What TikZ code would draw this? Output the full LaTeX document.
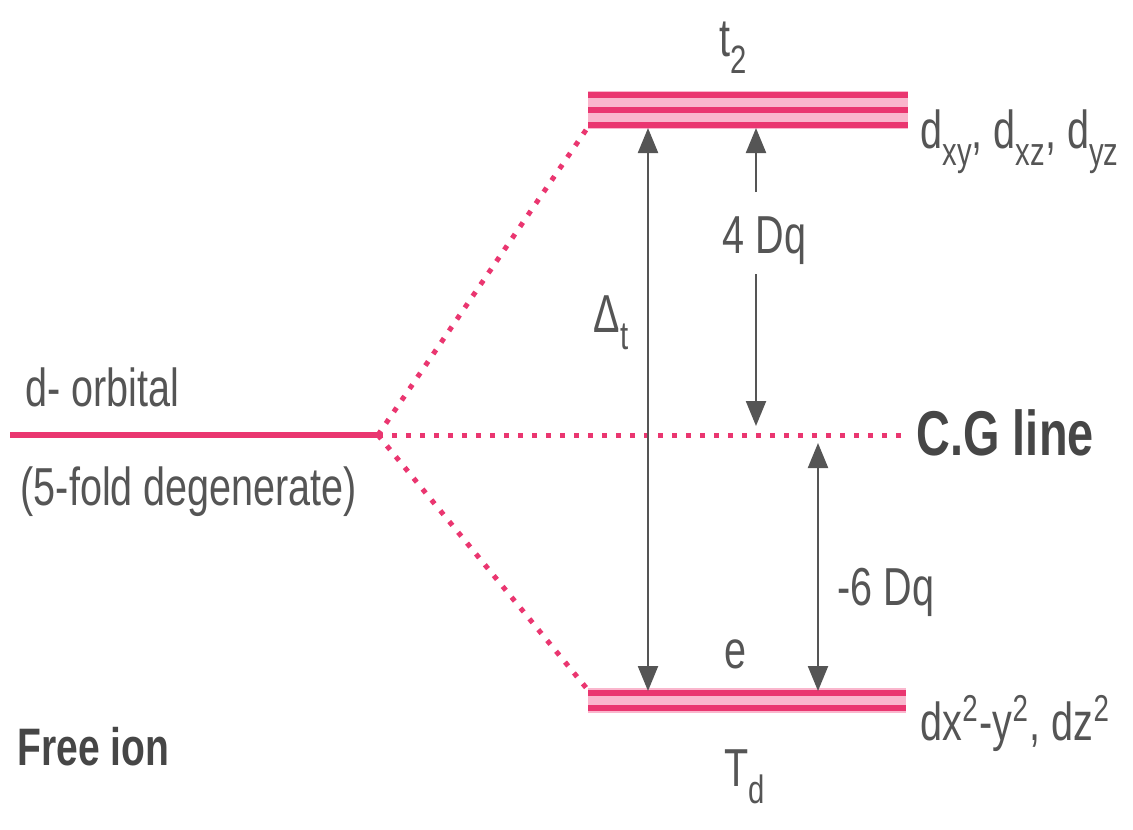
\documentclass[tikz,border=0pt]{standalone}
\usepackage{fontspec}
\setmainfont{Liberation Sans}[FakeStretch=0.74]
\usetikzlibrary{arrows.meta}
\definecolor{lvlpink}{RGB}{234,54,112}
\definecolor{gappink}{RGB}{250,182,205}
\definecolor{txtgray}{RGB}{85,85,85}
\newcommand{\lowsub}[1]{\raisebox{-0.32em}{\scalebox{0.74}{#1}}}

\begin{document}
\begin{tikzpicture}[x=0.01cm, y=-0.01cm,
    >={Triangle[length=0.25cm, width=0.2cm]},
    level/.style={lvlpink, line width=0.06cm},
    split/.style={lvlpink, line width=0.05cm, dash pattern=on 0.05cm off 0.09cm},
    gap/.style={txtgray, line width=0.022cm},
    lbl/.style={txtgray, inner sep=0pt, font=\fontsize{15.2pt}{18pt}\selectfont},
    boldlbl/.style={lbl, text={rgb,255:red,70;green,70;blue,70}, font=\fontsize{18pt}{20pt}\selectfont\bfseries}]
    \useasboundingbox (0,0) rectangle (1133,829);

    % Pontos dos niveis
    \coordinate (freeL) at (10,435);
    \coordinate (split) at (378,435);
    \coordinate (tLow) at (588,127);
    \coordinate (eTop) at (588,690);
    \coordinate (cgR) at (905,435);

    % Ion livre
    \draw[level] (freeL) -- (split);
    \node[lbl, anchor=base west] (dorb) at (25,406) {d- orbital};
    \node[lbl, anchor=base west] (degen) at (20,505) {(5-fold degenerate)};
    \node[boldlbl, anchor=base west, font=\fontsize{15pt}{18pt}\selectfont\bfseries] (free) at (17,765) {Free ion};

    % Desdobramento
    \draw[split] (split) -- (tLow);
    \draw[split] (split) -- (eTop);
    \draw[split] (split) -- (cgR);
    \node[boldlbl, anchor=base west] (cg) at (916,455) {C.G line};

    % Nivel t2
    \fill[gappink] (588,91) rectangle (908,129);
    \foreach \y in {95,110,125}
        \draw[level] (588,\y) -- (908,\y);
    \node[lbl, anchor=base west] (ttwo) at (719,56) {t\lowsub{2}};
    \node[lbl, anchor=base west] (tdeg) at (920,148) {d\lowsub{xy}, d\lowsub{xz}, d\lowsub{yz}};

    % Nivel e
    \fill[gappink] (588,688) rectangle (906,713);
    \foreach \y in {693,708}
        \draw[level] (588,\y) -- (906,\y);
    \node[lbl, anchor=base west] (elbl) at (724,668) {e};
    \node[lbl, anchor=base west] (edeg) at (920,740) {dx\textsuperscript{2}-y\textsuperscript{2}, dz\textsuperscript{2}};
    \node[lbl, anchor=base west] (td) at (724,786) {T\lowsub{d}};

    % Setas
    \coordinate (dtTop) at (648,128);
    \coordinate (dtBot) at (648,691);
    \draw[gap, <->] (dtTop) -- (dtBot);
    \node[lbl, anchor=base west] (delta) at (593,332) {Δ\lowsub{t}};

    \coordinate (qTop) at (756,128);
    \coordinate (qUp) at (756,192);
    \coordinate (qDown) at (756,274);
    \coordinate (qBot) at (756,426);
    \draw[gap, ->] (qUp) -- (qTop);
    \draw[gap, ->] (qDown) -- (qBot);
    \node[lbl, anchor=base west] (fourdq) at (722,253) {4 Dq};

    \coordinate (sTop) at (818,443);
    \coordinate (sBot) at (818,691);
    \draw[gap, <->] (sTop) -- (sBot);
    \node[lbl, anchor=base west] (sixdq) at (837,605) {-6 Dq};
\end{tikzpicture}
\end{document}
